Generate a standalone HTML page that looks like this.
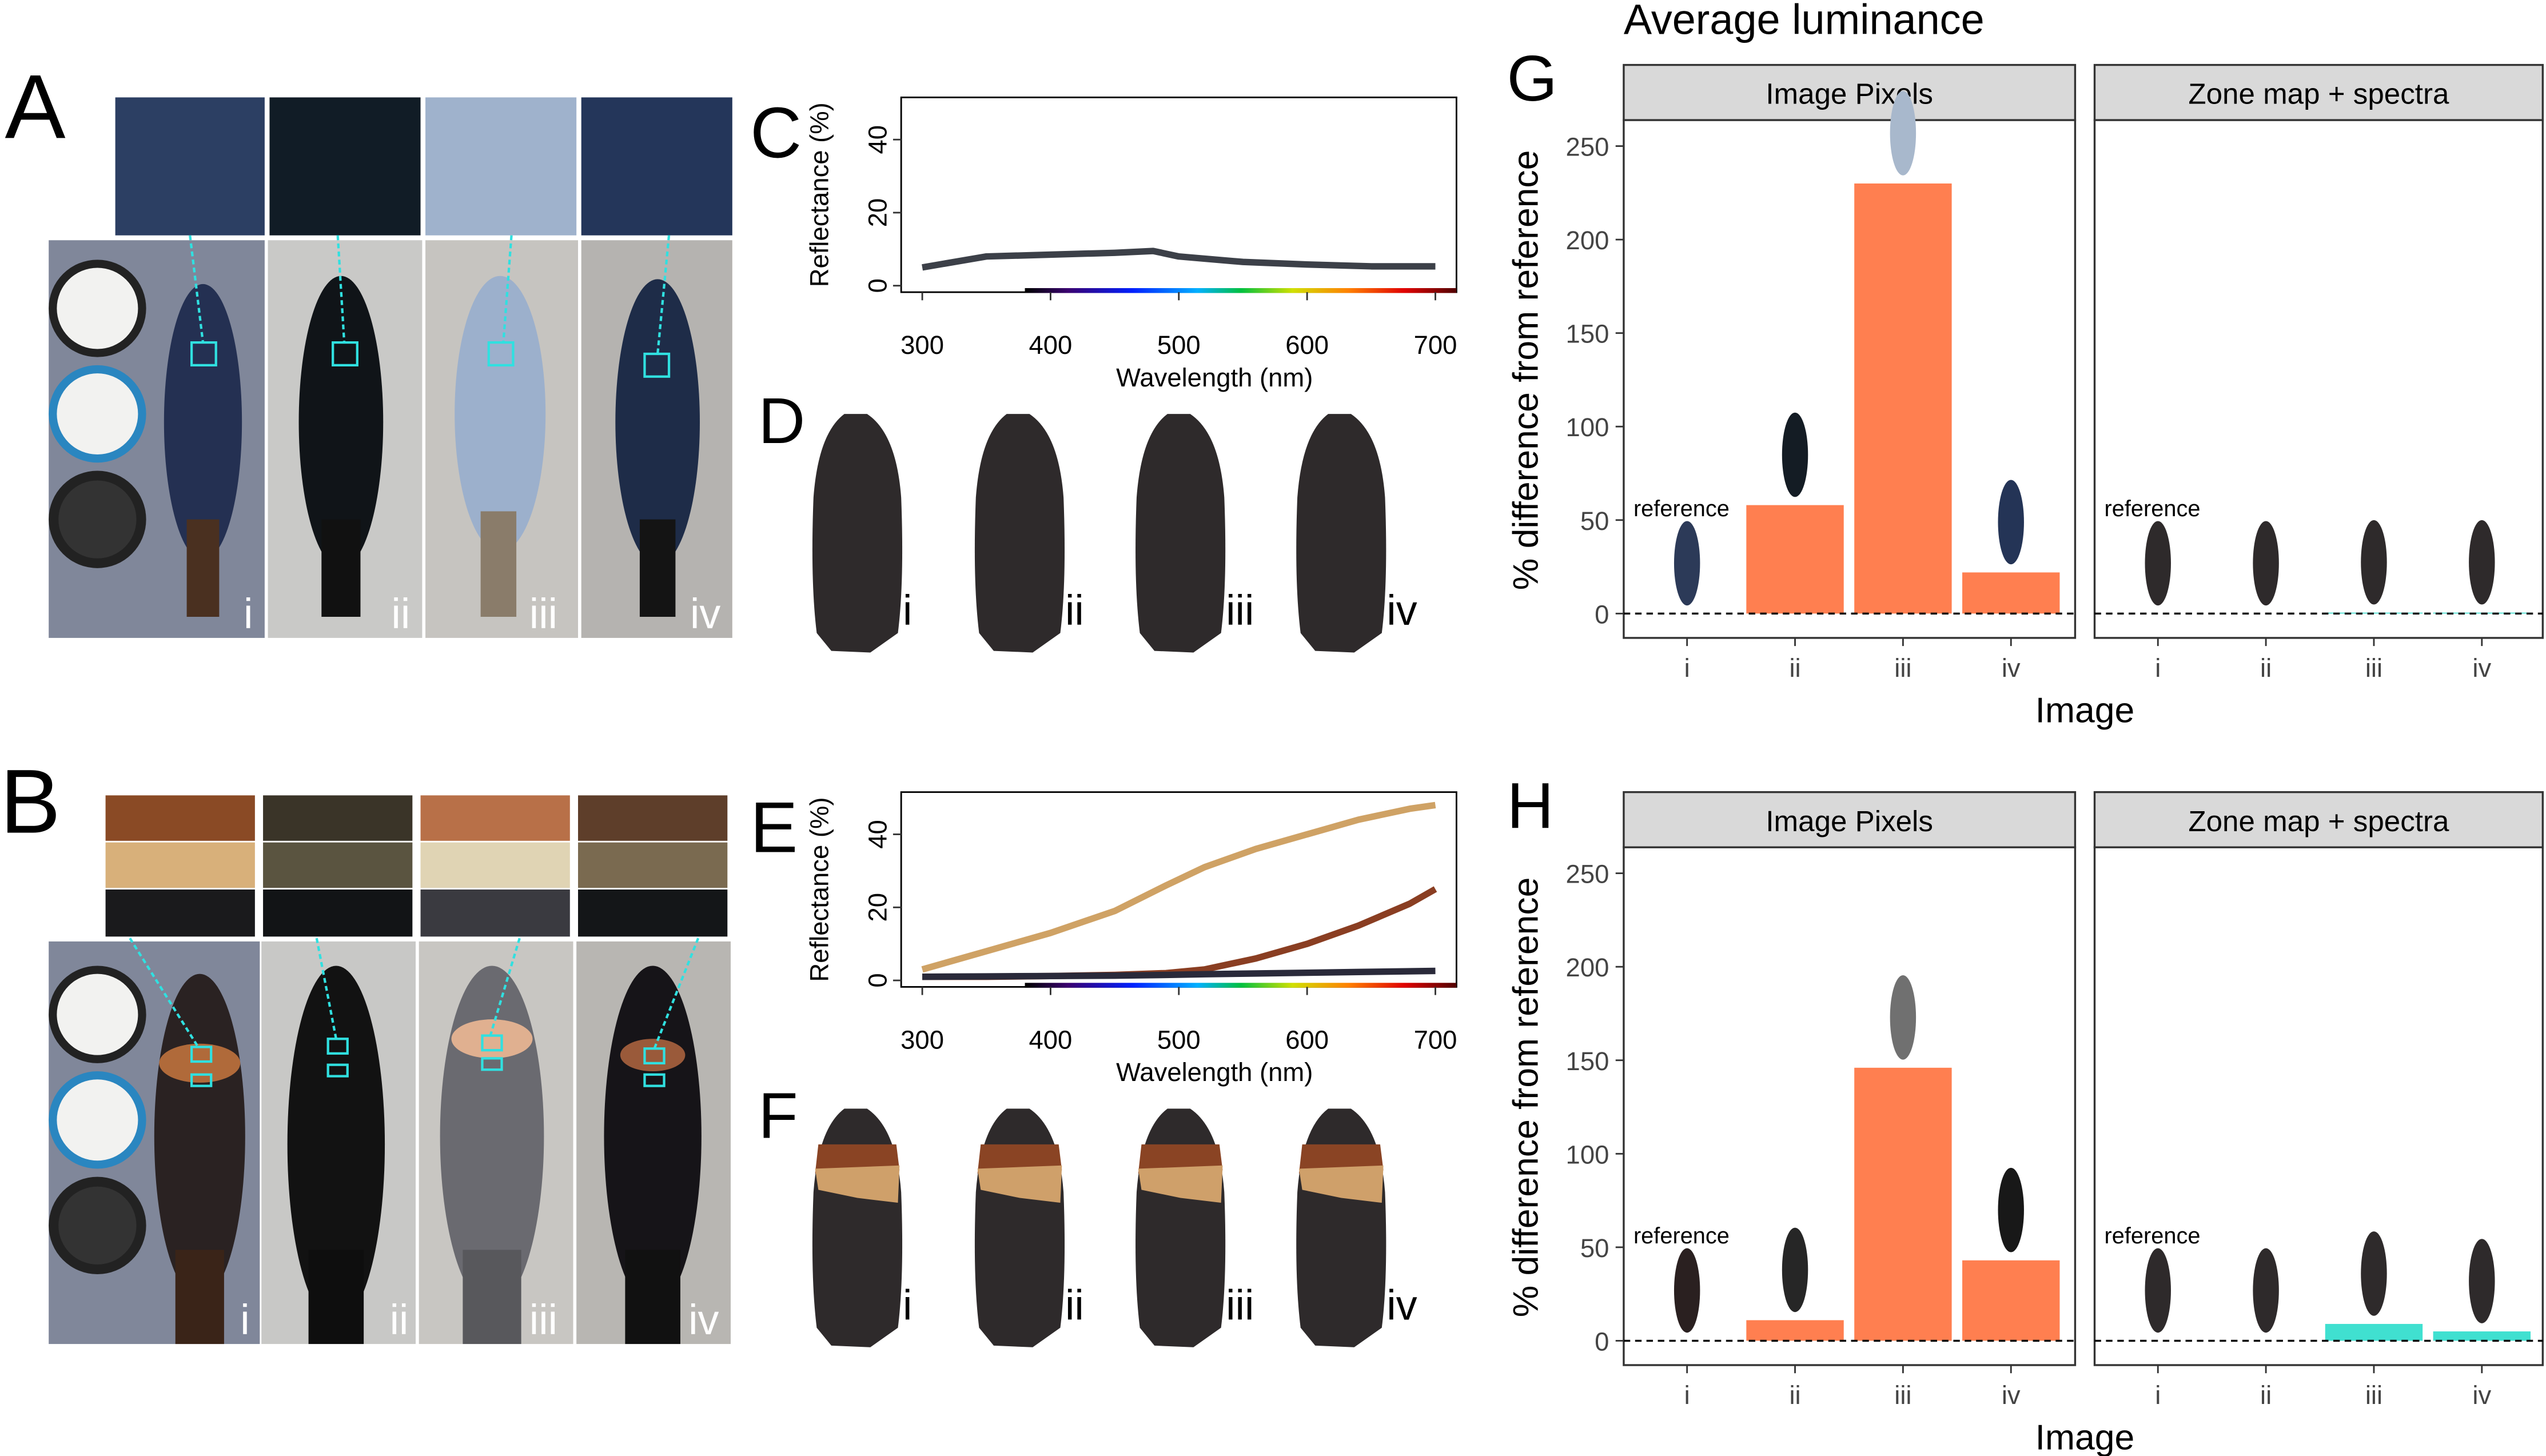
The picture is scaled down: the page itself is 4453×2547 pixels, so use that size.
<!DOCTYPE html>
<html><head><meta charset="utf-8"><style>
html,body{margin:0;padding:0;background:#fff;}
svg{display:block;font-family:"Liberation Sans",Arial,sans-serif;}
</style></head><body>
<svg id="fig" width="4453" height="2547" viewBox="0 0 1568 897" preserveAspectRatio="none" xmlns="http://www.w3.org/2000/svg">
<defs>
<linearGradient id="spec" x1="0" x2="1"><stop offset="0" stop-color="#000"/><stop offset="0.1" stop-color="#3a0070"/><stop offset="0.25" stop-color="#0020ff"/><stop offset="0.4" stop-color="#00b0ff"/><stop offset="0.5" stop-color="#00c040"/><stop offset="0.62" stop-color="#d0e000"/><stop offset="0.75" stop-color="#ff8000"/><stop offset="0.88" stop-color="#e00000"/><stop offset="1" stop-color="#500000"/></linearGradient>
</defs>
<g id="panelA">
<text x="3" y="85" font-size="56">A</text>
<rect x="71" y="60" width="92" height="85" fill="#2c3f63"/>
<rect x="166" y="60" width="93" height="85" fill="#111c26"/>
<rect x="262" y="60" width="93" height="85" fill="#9fb2cc"/>
<rect x="358" y="60" width="93" height="85" fill="#24365a"/>
<rect x="30" y="148" width="133" height="245" fill="#80879a"/>
<rect x="165" y="148" width="95" height="245" fill="#c9c9c7"/>
<rect x="262" y="148" width="94" height="245" fill="#c6c4c0"/>
<rect x="358" y="148" width="93" height="245" fill="#b5b3b0"/>
<circle cx="60" cy="190" r="30" fill="#222"/><circle cx="60" cy="190" r="25" fill="#f2f2f0"/>
<circle cx="60" cy="255" r="30" fill="#2a86c0"/><circle cx="60" cy="255" r="25" fill="#f2f2f0"/>
<circle cx="60" cy="320" r="30" fill="#222"/><circle cx="60" cy="320" r="24" fill="#333"/>
<ellipse cx="125" cy="260" rx="24" ry="85" fill="#243052"/><rect x="115" y="320" width="20" height="60" fill="#4a3020"/>
<ellipse cx="210" cy="260" rx="26" ry="90" fill="#101418"/><rect x="198" y="320" width="24" height="60" fill="#111"/>
<ellipse cx="308" cy="255" rx="28" ry="85" fill="#9cb0cc"/><rect x="296" y="315" width="22" height="65" fill="#8a7c6a"/>
<ellipse cx="405" cy="260" rx="26" ry="88" fill="#1e2c48"/><rect x="394" y="320" width="22" height="60" fill="#141414"/>
<g fill="none" stroke="#30e0e0" stroke-width="1.5">
<rect x="118" y="211" width="15" height="14"/><rect x="205" y="211" width="15" height="14"/><rect x="301" y="211" width="15" height="14"/><rect x="397" y="218" width="15" height="14"/>
<line x1="117" y1="145" x2="125" y2="211" stroke-dasharray="3,2"/><line x1="208" y1="145" x2="212" y2="211" stroke-dasharray="3,2"/><line x1="315" y1="145" x2="310" y2="211" stroke-dasharray="3,2"/><line x1="412" y1="145" x2="405" y2="218" stroke-dasharray="3,2"/>
</g>
<g fill="#fff" font-size="26"><text x="150" y="387">i</text><text x="241" y="387">ii</text><text x="326" y="387">iii</text><text x="425" y="387">iv</text></g>
</g>
<g id="panelB">
<text x="0" y="513" font-size="56">B</text>
<g>
<rect x="65" y="490" width="92" height="28" fill="#8a4a25"/><rect x="65" y="519" width="92" height="28" fill="#d8b07a"/><rect x="65" y="548" width="92" height="29" fill="#1a1a1c"/>
<rect x="162" y="490" width="92" height="28" fill="#3a3428"/><rect x="162" y="519" width="92" height="28" fill="#5a5440"/><rect x="162" y="548" width="92" height="29" fill="#121416"/>
<rect x="259" y="490" width="92" height="28" fill="#b87048"/><rect x="259" y="519" width="92" height="28" fill="#e0d4b4"/><rect x="259" y="548" width="92" height="29" fill="#3a3a40"/>
<rect x="356" y="490" width="92" height="28" fill="#5e3e2a"/><rect x="356" y="519" width="92" height="28" fill="#7a6a50"/><rect x="356" y="548" width="92" height="29" fill="#141618"/>
</g>
<rect x="30" y="580" width="130" height="248" fill="#80879a"/>
<rect x="161" y="580" width="95" height="248" fill="#c8c8c6"/>
<rect x="258" y="580" width="95" height="248" fill="#c8c6c2"/>
<rect x="355" y="580" width="95" height="248" fill="#b8b6b2"/>
<circle cx="60" cy="625" r="30" fill="#222"/><circle cx="60" cy="625" r="25" fill="#f2f2f0"/>
<circle cx="60" cy="690" r="30" fill="#2a86c0"/><circle cx="60" cy="690" r="25" fill="#f2f2f0"/>
<circle cx="60" cy="755" r="30" fill="#222"/><circle cx="60" cy="755" r="24" fill="#333"/>
<ellipse cx="123" cy="700" rx="28" ry="100" fill="#2a2222"/><rect x="108" y="770" width="30" height="58" fill="#3a2418"/><ellipse cx="123" cy="655" rx="25" ry="12" fill="#b06a3a"/>
<ellipse cx="207" cy="705" rx="30" ry="110" fill="#121212"/><rect x="190" y="770" width="34" height="58" fill="#0e0e0e"/>
<ellipse cx="303" cy="700" rx="32" ry="105" fill="#6a6a70"/><rect x="285" y="770" width="36" height="58" fill="#58585c"/><ellipse cx="303" cy="640" rx="25" ry="12" fill="#e0b090"/>
<ellipse cx="402" cy="700" rx="30" ry="105" fill="#161418"/><rect x="385" y="770" width="34" height="58" fill="#111"/><ellipse cx="402" cy="650" rx="20" ry="10" fill="#9a5a3a"/>
<g fill="none" stroke="#30e0e0" stroke-width="1.5">
<rect x="118" y="645" width="12" height="9"/><rect x="118" y="662" width="12" height="7"/><rect x="202" y="640" width="12" height="9"/><rect x="202" y="656" width="12" height="7"/>
<rect x="297" y="638" width="12" height="9"/><rect x="297" y="652" width="12" height="7"/><rect x="397" y="646" width="12" height="9"/><rect x="397" y="662" width="12" height="7"/>
<line x1="80" y1="578" x2="122" y2="645" stroke-dasharray="3,2"/><line x1="195" y1="578" x2="207" y2="640" stroke-dasharray="3,2"/><line x1="320" y1="578" x2="302" y2="638" stroke-dasharray="3,2"/><line x1="430" y1="578" x2="403" y2="646" stroke-dasharray="3,2"/>
</g>
<g fill="#fff" font-size="26"><text x="148" y="822">i</text><text x="240" y="822">ii</text><text x="326" y="822">iii</text><text x="424" y="822">iv</text></g>
</g>
<g id="spectraC"></g>
<g id="spectraE"></g>
<g id="featherD"></g>
<g id="featherF"></g>
<text x="1000" y="21" font-size="26">Average luminance</text>
<g id="barG"></g>
<g id="barH"></g>
</svg>
<script>
const wl = [300,350,400,450,480,500,550,600,650,700];
const specC = [5,8,8.5,9,9.5,8,6.5,5.8,5.3,5.3];
const wlE = [300,350,400,450,490,520,560,600,640,680,700];
const specE_tan = [3,8,13,19,26,31,36,40,44,47,48];
const specE_brown = [1,1,1.2,1.5,2,3,6,10,15,21,25];
const specE_dark = [1,1.1,1.2,1.3,1.5,1.7,1.9,2.1,2.3,2.5,2.6];
const wlTicks = [300,400,500,600,700];
const reflTicks = [0,20,40];
const imgs = ['i','ii','iii','iv'];
const gPix = [0,58,230,22];
const gZone = [0,0,0.5,0.5];
const hPix = [0,11,146,43];
const hZone = [0,0,9,5];
const yTicks = [0,50,100,150,200,250];
const NS='http://www.w3.org/2000/svg';
function mk(p,t,a,txt){const e=document.createElementNS(NS,t);for(const k in a)e.setAttribute(k,a[k]);if(txt!==undefined)e.textContent=txt;p.appendChild(e);return e;}

function spectra(gid,top,label,series,xs,colors){
  const g=document.getElementById(gid);
  const x0=555,x1=897,y0=top,y1=top+120;
  const zero=y1-4;
  const xs_=v=>568+(v-300)*(884-568)/400;
  const ys=v=>zero-v*2.25;
  const box=mk(g,'rect',{x:x0,y:y0,width:x1-x0,height:y1-y0,fill:'none',stroke:'#000','stroke-width':1});
  
  const bar=mk(g,'rect',{x:xs_(380),y:y1-2.5,width:xs_(700)-xs_(380)+13,height:3,fill:'url(#spec)'});
  
  wlTicks.forEach(t=>{mk(g,'line',{x1:xs_(t),x2:xs_(t),y1:y1,y2:y1+5,stroke:'#333'});
    const tx=mk(g,'text',{x:xs_(t),y:y1+38,'font-size':16,'text-anchor':'middle'},t);
    });
  reflTicks.forEach(t=>{mk(g,'line',{x1:x0-5,x2:x0,y1:ys(t),y2:ys(t),stroke:'#333'});
    const tx=mk(g,'text',{x:0,y:0,'font-size':16,'text-anchor':'middle',transform:`translate(${x0-9},${ys(t)}) rotate(-90)`},t);
    });
  const yt=mk(g,'text',{x:0,y:0,'font-size':16,'text-anchor':'middle',transform:`translate(${x0-45},${y0+60}) rotate(-90)`},'Reflectance (%)');
  
  const xt=mk(g,'text',{x:748,y:y1+58,'font-size':16,'text-anchor':'middle'},'Wavelength (nm)');
  
  const lt=mk(g,'text',{x:x0-93,y:y0+37,'font-size':44},label);
  
  series.forEach((s,i)=>{const pts=s.map((v,j)=>xs_(xs[j])+','+ys(v)).join(' ');
    const l=mk(g,'polyline',{points:pts,fill:'none',stroke:colors[i],'stroke-width':4,'stroke-linejoin':'round'});
    });
}
spectra('spectraC',60,'C',[specC],wl,['#3c4048']);
spectra('spectraE',488,'E',[specE_tan,specE_brown,specE_dark],wlE,['#cfa265','#8a3e22','#2a2a3a']);

function featherPath(cx,top,h,w){const b=top+h,hw=w/2;
  return `M${cx-8},${top} L${cx+6},${top} Q${cx+hw-4},${top+12} ${cx+hw-1},${top+h*0.35} Q${cx+hw+1},${top+h*0.7} ${cx+hw-3},${b-12} L${cx+8},${b} L${cx-16},${b-1} L${cx-hw+3},${b-12} Q${cx-hw-1},${top+h*0.7} ${cx-hw+1},${top+h*0.35} Q${cx-hw+4},${top+12} ${cx-8},${top} Z`;}
function feathers(gid,top,label,bands){
  const g=document.getElementById(gid);const cxs=[528,628,727,826];
  const lt=mk(g,'text',{x:467,y:top+18,'font-size':40},label);
  
  cxs.forEach((cx,i)=>{const f=mk(g,'path',{d:featherPath(cx,top,147,56),fill:'#2e2a2b'});
    
    if(bands){mk(g,'path',{d:`M${cx-24},${top+22} L${cx+24},${top+22} L${cx+26},${top+38} L${cx-26},${top+40} Z`,fill:'#8a4424'});
      mk(g,'path',{d:`M${cx-26},${top+37} L${cx+26},${top+35} L${cx+25},${top+58} L${cx},${top+55} L${cx-24},${top+50} Z`,fill:'#cfa06a'});}
    const t=mk(g,'text',{x:cx+28,y:top+130,'font-size':26},imgs[i]);
    });
}
feathers('featherD',255,'D',false);
feathers('featherF',683,'F',true);

function barChart(gid,top,label,pix,zone,iconCols){
  const g=document.getElementById(gid);
  const stripTop=top,plotTop=top+34,plotBot=top+353;
  const zero=plotBot-15;const ys=v=>zero-v*1.152;
  const panels=[[1000,1278,'Image Pixels',pix,'#ff7f50'],[1290,1566,'Zone map + spectra',zone,'#40e0d0']];
  const lt=mk(g,'text',{x:928,y:top+22,'font-size':40},label);
  
  panels.forEach((p,pi)=>{const [a,b,name,vals,col]=p;
    const st=mk(g,'rect',{x:a,y:stripTop,width:b-a,height:34,fill:'#d9d9d9',stroke:'#333','stroke-width':1.2});
    
    const stt=mk(g,'text',{x:(a+b)/2,y:stripTop+24,'font-size':18,'text-anchor':'middle'},name);
    
    const pa=mk(g,'rect',{x:a,y:plotTop,width:b-a,height:plotBot-plotTop,fill:'#fff',stroke:'#333','stroke-width':1.2});
    
    const step=66.5;
    vals.forEach((v,i)=>{const cx=a+39+step*i;
      if(v>0){const r=mk(g,'rect',{x:cx-30,y:ys(v),width:60,height:zero-ys(v),fill:col});
        }
      const iy=ys(v)-5;const ic=mk(g,'ellipse',{cx:cx,cy:iy-26,rx:8,ry:26,fill:(pi==0?iconCols[i]:'#2e2a2b')});
      
      mk(g,'line',{x1:cx,x2:cx,y1:plotBot,y2:plotBot+5,stroke:'#333'});
      const tx=mk(g,'text',{x:cx,y:plotBot+24,'font-size':16,'text-anchor':'middle',fill:'#444'},imgs[i]);
      });
    const rf=mk(g,'text',{x:a+6,y:ys(0)-60,'font-size':14},'reference');
    
    const d=mk(g,'line',{x1:a,x2:b,y1:zero,y2:zero,stroke:'#000','stroke-dasharray':'4,3','stroke-width':1.2});
    });
  yTicks.forEach(t=>{mk(g,'line',{x1:995,x2:1000,y1:ys(t),y2:ys(t),stroke:'#333'});
    const tx=mk(g,'text',{x:991,y:ys(t)+6,'font-size':16,'text-anchor':'end',fill:'#444'},t);
    });
  const yt=mk(g,'text',{x:0,y:0,'font-size':22,'text-anchor':'middle',transform:`translate(947,${zero-150}) rotate(-90)`},'% difference from reference');
  
  const xt=mk(g,'text',{x:1284,y:plotBot+52,'font-size':22,'text-anchor':'middle'},'Image');
  
}
barChart('barG',40,'G',gPix,gZone,['#2c3a58','#141c24','#a8b8cc','#243456']);
barChart('barH',488,'H',hPix,hZone,['#2a2020','#262626','#707070','#181818']);
</script>
</body></html>
